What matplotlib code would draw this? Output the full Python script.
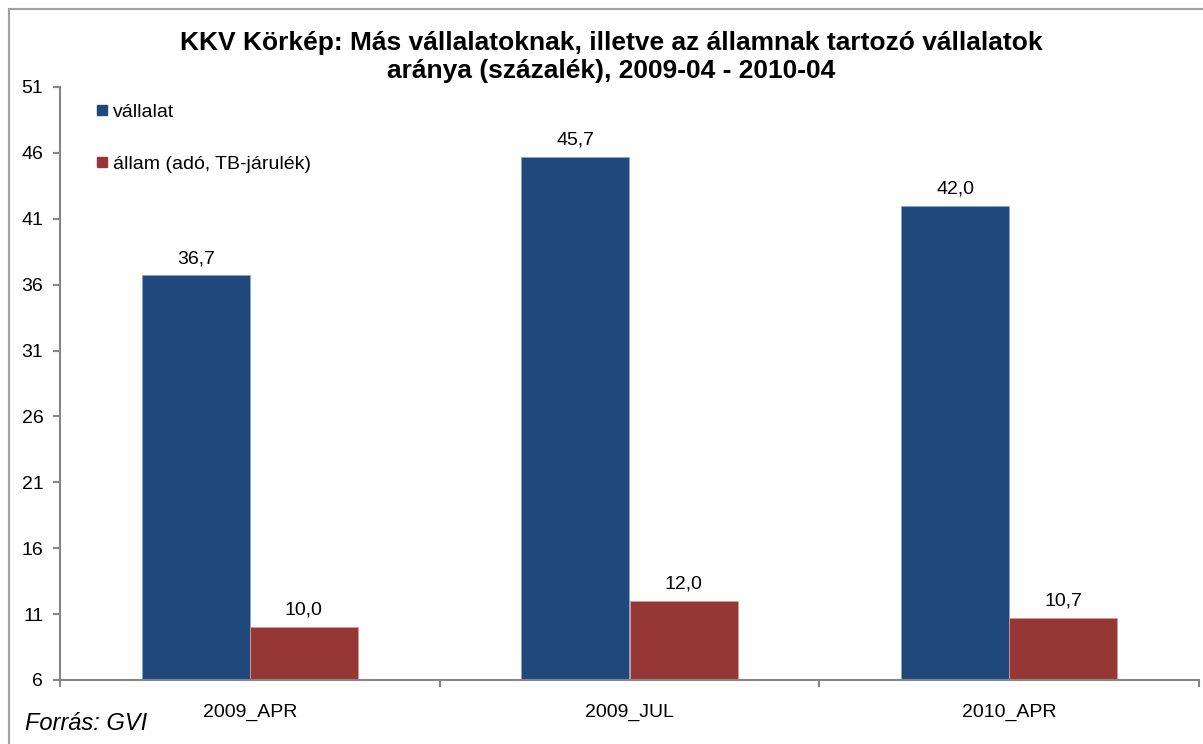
import numpy as np
import matplotlib
matplotlib.use("Agg")
import matplotlib.pyplot as plt
from matplotlib.lines import Line2D
from matplotlib.ticker import FixedLocator

plt.rcParams['font.family'] = ['Liberation Sans', 'DejaVu Sans']

categories = ['2009_APR', '2009_JUL', '2010_APR']
vallalat = [36.7, 45.7, 42.0]
allam = [10.0, 12.0, 10.7]
series_names = ['vállalat', 'állam (adó, TB-járulék)']
y_ticks = [6, 11, 16, 21, 26, 31, 36, 41, 46, 51]

blue = '#1F497D'
red = '#953735'
axis_gray = '#868686'

fig = plt.figure(figsize=(12.03, 7.44), dpi=100)
ax = fig.add_axes([60 / 1203, 1 - 680 / 744, 1139 / 1203, 593 / 744])

x = np.arange(len(categories))
w = 0.285
ax.bar(x - w / 2, np.array(vallalat) - 6, w, bottom=6, color=blue,
       edgecolor='#8EA5C8', linewidth=0.6)
ax.bar(x + w / 2, np.array(allam) - 6, w, bottom=6, color=red,
       edgecolor='#D99795', linewidth=0.6)

for xi, v in zip(x - w / 2, vallalat):
    ax.annotate(f'{v:.1f}'.replace('.', ','), (xi, v), xytext=(0, 6),
                textcoords='offset points', ha='center', va='bottom', fontsize=14)
for xi, v in zip(x + w / 2, allam):
    ax.annotate(f'{v:.1f}'.replace('.', ','), (xi, v), xytext=(0, 6),
                textcoords='offset points', ha='center', va='bottom', fontsize=14)

ax.set_xlim(-0.5, len(categories) - 0.5)
ax.set_ylim(6, 51)
ax.set_yticks(y_ticks)
ax.set_xticks(x)
ax.set_xticklabels(categories, fontsize=14)
ax.xaxis.set_minor_locator(FixedLocator(np.arange(-0.5, len(categories), 1.0)))
ax.tick_params(axis='x', which='major', length=0, pad=17)
ax.tick_params(axis='x', which='minor', length=5, color=axis_gray, width=1.5)
ax.tick_params(axis='y', length=5, color=axis_gray, width=1.5, labelsize=14, pad=7)

for s in ['top', 'right']:
    ax.spines[s].set_visible(False)
for s in ['left', 'bottom']:
    ax.spines[s].set_color(axis_gray)
    ax.spines[s].set_linewidth(1.5)

handles = [Line2D([], [], marker='s', linestyle='none', markersize=7, color=blue),
           Line2D([], [], marker='s', linestyle='none', markersize=7, color=red)]
ax.legend(handles, series_names, loc='upper left', bbox_to_anchor=(0.033, 0.973),
          frameon=False, fontsize=14, handlelength=0.5, handletextpad=0.3,
          labelspacing=1.78, borderaxespad=0, borderpad=0)

fig.text(0.508, 1 - 57 / 744, 'KKV Körkép: Más vállalatoknak, illetve az államnak tartozó vállalatok\n'
         'aránya (százalék), 2009-04 - 2010-04', ha='center', va='center',
         fontsize=19, fontweight='bold', linespacing=1.25)
fig.text(25 / 1203, 1 - 724 / 744, 'Forrás: GVI', fontsize=17, style='italic',
         ha='left', va='center')

# chart frame (only top and left visible)
fig.add_artist(Line2D([9 / 1203, 1], [1 - 9 / 744] * 2, color='#A0A0A0', lw=1.5))
fig.add_artist(Line2D([9 / 1203] * 2, [0, 1 - 9 / 744], color='#A0A0A0', lw=1.5))

fig.savefig('out.png', dpi=100)
